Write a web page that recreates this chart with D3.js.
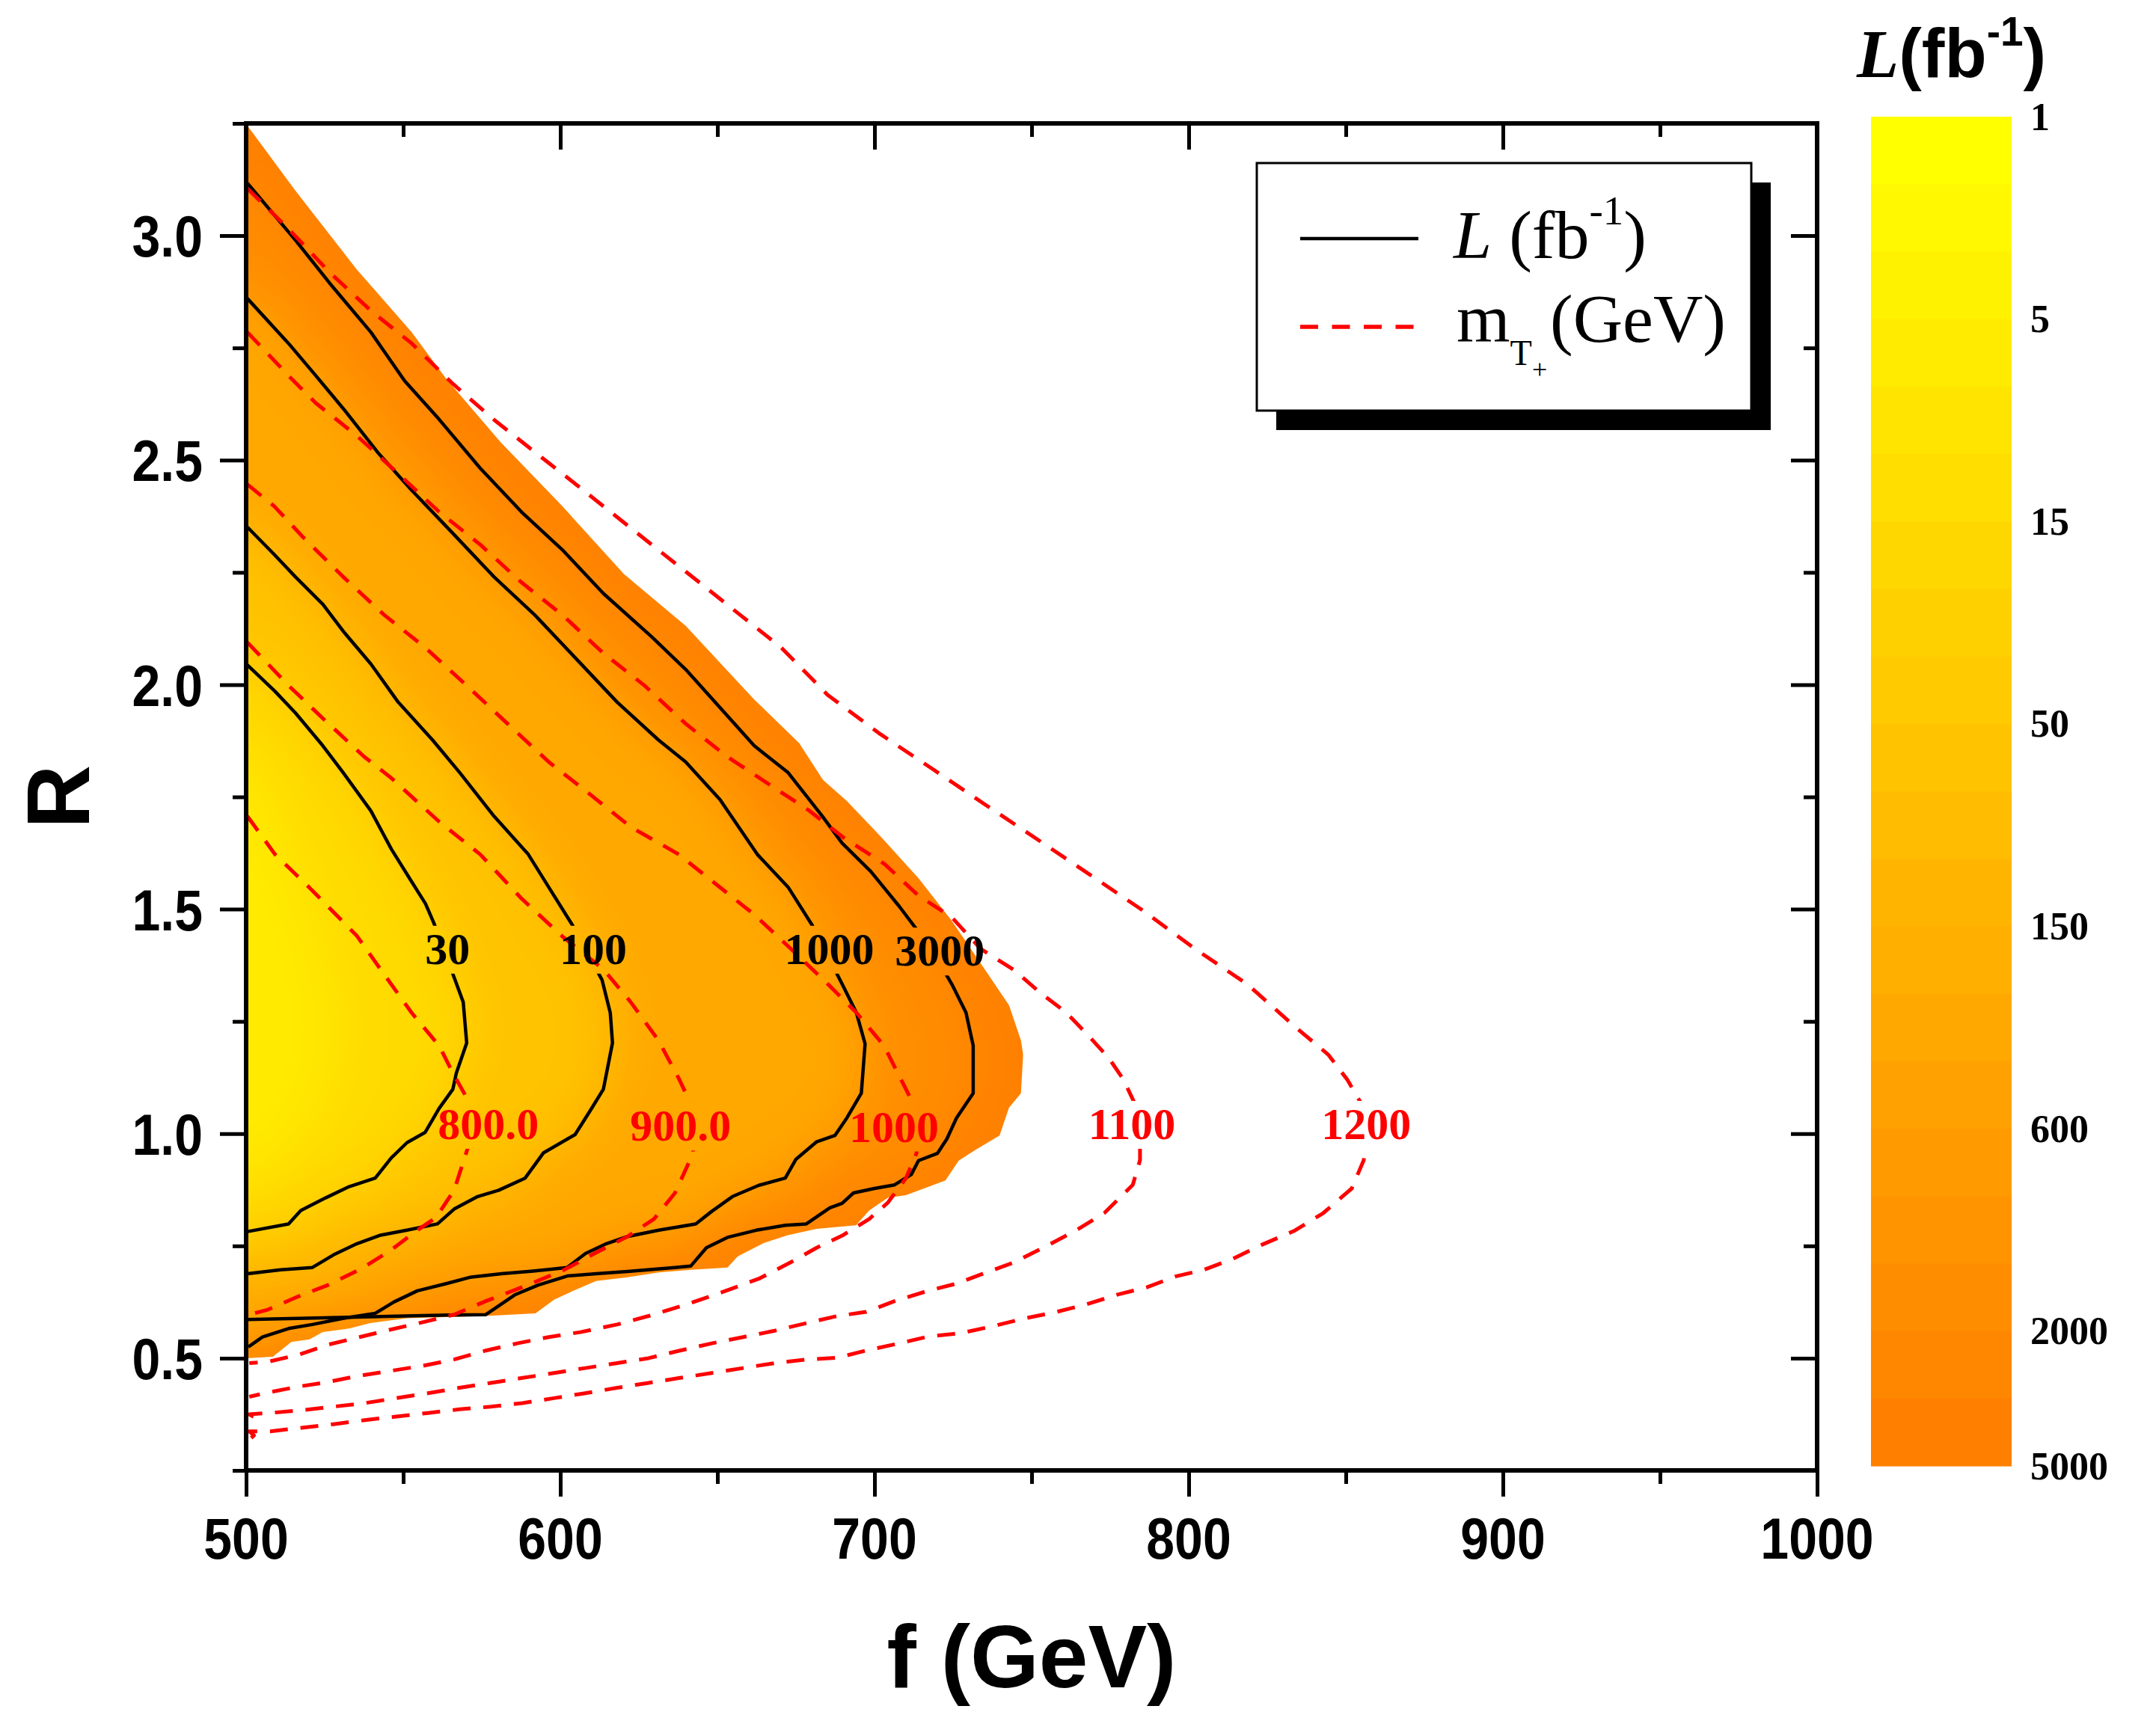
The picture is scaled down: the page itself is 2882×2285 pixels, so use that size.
<!DOCTYPE html>
<html><head><meta charset="utf-8">
<script src="https://cdn.jsdelivr.net/npm/d3@7"></script>
<style>html,body{margin:0;padding:0;background:#fff}</style>
</head><body>
<svg id="chart" width="2882" height="2285" xmlns="http://www.w3.org/2000/svg"></svg>
<script>
// ---------------- DATA ----------------
const fTicks = [500, 600, 700, 800, 900, 1000];
const fMinor = [550, 650, 750, 850, 950];
const rTicks = [0.5, 1.0, 1.5, 2.0, 2.5, 3.0];
const rMinor = [0.25, 0.75, 1.25, 1.75, 2.25, 2.75, 3.25];

// colour-bar levels (fb^-1), 20 bands
const cbLevels = [1, 2, 3, 5, 7, 10, 15, 20, 30, 50, 70, 100, 150, 300, 450, 600, 1000, 1500, 2000, 3000, 5000];
const cbLabels = [1, 5, 15, 50, 150, 600, 2000, 5000];

// edge of the filled region (L = 5000)
const edge5000 = [[500.4,3.245],[515.7,3.10],[535.3,2.924],[552.7,2.785],[563.6,2.682],[581,2.54],[600.7,2.397],[620.3,2.246],[639.9,2.131],[661.7,1.967],[676,1.87],[683.6,1.788],[691.2,1.741],[701.8,1.663],[714,1.569],[724.6,1.474],[735.2,1.365],[742.8,1.286],[746.6,1.208],[747.3,1.176],[746.6,1.09],[742.8,1.058],[739.8,0.996],[732.2,0.964],[726.8,0.94],[722.6,0.896],[710,0.863],[704.2,0.857],[698.3,0.829],[694.1,0.796],[681.6,0.788],[672.4,0.774],[664.9,0.757],[656.5,0.727],[653.2,0.702],[641.5,0.697],[631.4,0.691],[621.4,0.68],[611.4,0.672],[604.7,0.652],[598,0.63],[592.1,0.60],[576.3,0.594],[551.2,0.589],[539.5,0.578],[532.8,0.566],[524.4,0.558],[520.2,0.542],[514.4,0.536],[508.5,0.503],[500,0.50]];

// estimated light core (about L = 10)
const core10 = [[500,1.85],[510,1.70],[520,1.52],[527,1.35],[529,1.20],[525,1.07],[515,0.97],[505,0.91],[500,0.90]];

// luminosity contours L (fb^-1)
const L30 = [[500.4,2.044],[509.2,1.985],[515.7,1.937],[524.4,1.864],[530.9,1.804],[539.7,1.719],[546.2,1.634],[552.7,1.561],[557.1,1.512],[559.7,1.47],[566.2,1.348],[569.1,1.293],[570.2,1.202],[566.9,1.135],[565.8,1.099],[561.4,1.056],[557,1.003],[551.2,0.98],[546.2,0.946],[541.1,0.901],[532.8,0.882],[525.3,0.857],[517.4,0.829],[513.5,0.799],[500.5,0.782]];
const L100 = [[500.4,2.351],[509.2,2.288],[515.7,2.24],[524.4,2.179],[530.9,2.119],[539.7,2.046],[548.4,1.961],[559.3,1.877],[568,1.804],[578.9,1.707],[589.8,1.622],[596.3,1.549],[603.9,1.464],[613.3,1.342],[615.9,1.269],[616.6,1.202],[613.7,1.099],[609.4,1.05],[604.7,0.998],[594.6,0.957],[588.8,0.901],[580.4,0.874],[573.7,0.86],[566.2,0.832],[560.9,0.799],[551.2,0.785],[542.8,0.774],[535.3,0.755],[527.8,0.73],[521.1,0.702],[511,0.697],[500.5,0.688]];
const L1000 = [[500.4,2.86],[513.5,2.76],[522.2,2.688],[530.9,2.615],[541.8,2.518],[552.7,2.433],[565.8,2.337],[578.9,2.24],[591.9,2.155],[605,2.058],[618.1,1.961],[631.2,1.877],[639.9,1.828],[650.8,1.744],[662.7,1.622],[672.5,1.549],[680.2,1.464],[689.7,1.333],[694.2,1.27],[697,1.20],[695.8,1.09],[691.2,1.035],[687.4,0.996],[681.6,0.982],[675,0.943],[671.6,0.901],[663.2,0.885],[654.8,0.86],[648.2,0.827],[643.1,0.799],[631.4,0.785],[621.4,0.771],[614.7,0.755],[608,0.733],[602.2,0.702],[591.3,0.694],[581.3,0.688],[571.2,0.68],[563.7,0.666],[554.5,0.65],[547,0.625],[541.1,0.60],[531.1,0.589],[521.1,0.575],[513.5,0.566],[505.2,0.547],[500.7,0.525]];
const L3000 = [[500.4,3.117],[515.7,2.99],[526.6,2.894],[539.7,2.785],[550.5,2.676],[561.4,2.591],[574.5,2.482],[587.6,2.385],[600.7,2.30],[613.7,2.203],[629,2.107],[639.9,2.034],[650.8,1.949],[661.7,1.864],[672.5,1.804],[683.4,1.707],[689.7,1.647],[698.8,1.584],[707.9,1.506],[714.7,1.443],[719,1.40],[724.6,1.333],[729.1,1.27],[731.4,1.196],[731.4,1.09],[726.1,1.035],[723,0.988],[720,0.956],[714,0.94],[711.7,0.909],[706.4,0.886],[700,0.878],[693.3,0.868],[689.7,0.845],[685.8,0.835],[678.3,0.799],[671.6,0.796],[662.4,0.785],[653.2,0.769],[646.5,0.746],[641.5,0.705],[636.5,0.702],[621.4,0.693],[611.4,0.688],[602.2,0.683],[593,0.663],[585.5,0.641],[576.3,0.597],[564.5,0.596],[500.5,0.586]];

const lumLevels = [30, 100, 1000, 3000];
const lumLines = [L30, L100, L1000, L3000];
const lumLabelAt = [[564.1,1.412],[610.5,1.412],[685.6,1.412],[720.8,1.408]];

// top-partner mass contours m_T+ (GeV)
const M800 = [[500.4,1.707],[509.2,1.622],[520,1.549],[535.3,1.44],[544,1.354],[552.7,1.269],[561.4,1.196],[565.8,1.135],[570.2,1.08],[571.5,1.02],[570.4,0.965],[566.2,0.874],[560.4,0.813],[554.5,0.785],[546.2,0.741],[536.1,0.697],[526.1,0.663],[516.1,0.636],[506.9,0.608],[501,0.597]];
const M900 = [[500.4,2.094],[513.5,1.998],[524.4,1.925],[537.5,1.84],[546.2,1.792],[561.4,1.695],[574.5,1.622],[587.6,1.524],[600.7,1.439],[613.7,1.366],[622.4,1.293],[631.2,1.208],[637.7,1.123],[641,1.074],[642,1.015],[642.3,0.957],[636.5,0.868],[629.8,0.81],[621.4,0.771],[611.4,0.735],[601.3,0.697],[589.6,0.663],[576.3,0.627],[566.2,0.597],[556.2,0.58],[546.2,0.564],[536.1,0.547],[526.1,0.53],[516.9,0.508],[506.9,0.492],[501,0.489]];
const M1000 = [[500.4,2.446],[509,2.397],[517.9,2.33],[530.9,2.24],[544,2.155],[557.1,2.082],[570.2,1.998],[583.2,1.913],[596.3,1.828],[609.4,1.756],[622.4,1.683],[637.7,1.622],[648.6,1.561],[661.7,1.488],[674.7,1.403],[685.6,1.33],[694.3,1.269],[703,1.196],[707.4,1.135],[711.8,1.074],[713,1.015],[713.4,0.957],[710,0.901],[704.2,0.846],[698.3,0.81],[690,0.774],[681.6,0.746],[673.2,0.713],[663.2,0.677],[651.5,0.647],[639.8,0.619],[628.1,0.594],[618.1,0.575],[606.4,0.558],[596.3,0.547],[586.3,0.533],[576.3,0.517],[566.2,0.497],[556.2,0.483],[546.2,0.472],[536.1,0.461],[526.1,0.447],[516.1,0.436],[506,0.422],[501,0.414]];
const M1100 = [[500.4,2.785],[513.5,2.688],[522.2,2.627],[535.3,2.554],[548.4,2.47],[561.4,2.385],[574.5,2.312],[587.6,2.228],[600.7,2.155],[613.7,2.07],[626.8,1.998],[639.9,1.913],[653,1.84],[666,1.78],[679.1,1.72],[690,1.66],[703.3,1.60],[714,1.53],[724.6,1.482],[733.7,1.412],[744.3,1.365],[753.4,1.31],[761,1.27],[768.5,1.215],[774.6,1.168],[779.2,1.121],[782.9,1.066],[784.5,1.0],[784.5,0.941],[782.2,0.886],[773.1,0.823],[764,0.784],[753.4,0.745],[744.3,0.713],[735.2,0.69],[726.1,0.666],[717,0.65],[706.4,0.627],[697.3,0.603],[688.3,0.594],[678.3,0.578],[668.2,0.561],[658.2,0.547],[648.2,0.533],[638.1,0.517],[628.1,0.50],[618.1,0.489],[608,0.478],[598,0.467],[588,0.456],[577.9,0.445],[567.9,0.434],[557.9,0.422],[547.8,0.411],[537.8,0.40],[527.8,0.392],[517.7,0.384],[507.7,0.378],[501,0.375],[503,0.367],[500.5,0.356]];
const M1200 = [[500.4,3.105],[513.5,3.015],[526.6,2.918],[539.7,2.833],[552.7,2.76],[565.8,2.67],[578.9,2.59],[591.9,2.518],[605,2.446],[618.1,2.373],[631.2,2.30],[644.2,2.228],[657.3,2.155],[670.4,2.082],[685.1,1.977],[701.8,1.89],[718.5,1.812],[735.2,1.733],[751.9,1.655],[768.5,1.577],[785.2,1.498],[801.9,1.412],[818.6,1.333],[833.7,1.239],[844.4,1.176],[850.4,1.121],[855,1.066],[856.5,1.0],[855.7,0.941],[851.9,0.878],[842.8,0.823],[833.7,0.784],[823.1,0.752],[814,0.721],[804.9,0.697],[795.8,0.682],[786.7,0.658],[777.6,0.642],[767,0.619],[757.9,0.603],[747.3,0.588],[738.2,0.572],[727.6,0.556],[717,0.548],[707.9,0.533],[697.3,0.517],[688.2,0.501],[678.3,0.497],[668.2,0.489],[658.2,0.478],[648.2,0.467],[638.1,0.456],[628.1,0.445],[618.1,0.434],[608,0.422],[598,0.411],[588,0.40],[577.9,0.392],[567.9,0.386],[557.9,0.378],[547.8,0.37],[537.8,0.362],[527.8,0.353],[517.7,0.345],[507.7,0.337],[501,0.337],[502.5,0.328],[500.5,0.315]];

const massLevels = ["800.0", "900.0", "1000", "1100", "1200"];
const massLines = [M800, M900, M1000, M1100, M1200];
const massLabelAt = [[577.1,1.022],[638.3,1.018],[706.2,1.016],[781.9,1.022],[856.5,1.022]];

// ---------------- LAYOUT ----------------
const W = 2882, H = 2285;
const P = {left: 329, right: 2429, top: 165, bottom: 1966};
const CB = {left: 2501, right: 2689, top: 156, bottom: 1960};
const SANS = "'Liberation Sans', Arial, sans-serif";
const SERIF = "'Liberation Serif', 'Times New Roman', serif";

const svg = d3.select("#chart");
svg.append("rect").attr("width", W).attr("height", H).attr("fill", "#fff");

const x = d3.scaleLinear().domain([500, 1000]).range([P.left, P.right]);
const y = d3.scaleLinear().domain([0.25, 3.25]).range([P.bottom, P.top]);
const line = d3.line().x(d => x(d[0])).y(d => y(d[1]));

// colour of band i (0 = lowest level)
const bandColor = d3.scaleLinear().domain([0, 19]).range(["#ffff00", "#ff8000"]).interpolate(d3.interpolateRgb);

const defs = svg.append("defs");
defs.append("filter").attr("id", "soft")
  .attr("filterUnits", "userSpaceOnUse").attr("x", 0).attr("y", 0).attr("width", W).attr("height", H)
  .append("feGaussianBlur").attr("stdDeviation", 36);
defs.append("clipPath").attr("id", "edgeClip")
  .append("path").attr("d", line(edge5000) + "Z");
defs.append("clipPath").attr("id", "plotClip")
  .append("rect").attr("x", P.left).attr("y", P.top).attr("width", P.right - P.left).attr("height", P.bottom - P.top);

// ---------------- FILLED REGION ----------------
const extendLeft = pts => [[470, pts[0][1]], ...pts, [470, pts[pts.length - 1][1]]];
const fillOuter = svg.append("g").attr("clip-path", "url(#edgeClip)");
const fillG = fillOuter.append("g").attr("filter", "url(#soft)");
fillG.append("rect")
  .attr("x", x(460)).attr("y", y(3.6)).attr("width", x(800) - x(460)).attr("height", y(0) - y(3.6))
  .attr("fill", bandColor(19));
const zones = [
  {pts: L3000, band: 17},
  {pts: L1000, band: 13},
  {pts: L100, band: 9},
  {pts: L30, band: 5.6},
  {pts: core10, band: 3.2}
];
fillG.selectAll("path.zone").data(zones).join("path").attr("class", "zone")
  .attr("d", d => line(extendLeft(d.pts)) + "Z")
  .attr("fill", d => bandColor(d.band));

// ---------------- CONTOUR LINES ----------------
defs.append("mask").attr("id", "maskBlack").attr("maskUnits", "userSpaceOnUse")
  .attr("x", 0).attr("y", 0).attr("width", W).attr("height", H)
  .append("rect").attr("width", W).attr("height", H).attr("fill", "#fff");
defs.append("mask").attr("id", "maskRed").attr("maskUnits", "userSpaceOnUse")
  .attr("x", 0).attr("y", 0).attr("width", W).attr("height", H)
  .append("rect").attr("width", W).attr("height", H).attr("fill", "#fff");

const linesG = svg.append("g").attr("clip-path", "url(#plotClip)");
linesG.append("g").attr("mask", "url(#maskBlack)")
  .selectAll("path").data(lumLines).join("path")
  .attr("d", d => line(d)).attr("fill", "none").attr("stroke", "#000")
  .attr("stroke-width", 4.5).attr("stroke-linejoin", "round");
linesG.append("g").attr("mask", "url(#maskRed)")
  .selectAll("path").data(massLines).join("path")
  .attr("d", d => line(d)).attr("fill", "none").attr("stroke", "#ff0000")
  .attr("stroke-width", 5).attr("stroke-dasharray", "24,17").attr("stroke-linejoin", "round");

function contourLabels(texts, at, color, maskId) {
  const g = svg.append("g");
  const t = g.selectAll("text").data(texts).join("text")
    .attr("x", (d, i) => x(at[i][0])).attr("y", (d, i) => y(at[i][1]))
    .attr("dy", "0.34em").attr("text-anchor", "middle")
    .attr("font-family", SERIF).attr("font-weight", "bold").attr("font-size", 60)
    .attr("fill", color).text(d => d);
  const m = d3.select("#" + maskId);
  t.each(function () {
    const b = this.getBBox();
    m.append("rect").attr("x", b.x - 4).attr("y", b.y + 2).attr("width", b.width + 8).attr("height", b.height - 2).attr("fill", "#000");
  });
}
contourLabels(lumLevels.map(String), lumLabelAt, "#000", "maskBlack");
contourLabels(massLevels, massLabelAt, "#ff0000", "maskRed");

// ---------------- AXES ----------------
const axG = svg.append("g");
function styleAxis(g) {
  g.select(".domain").remove();
  g.selectAll(".tick line").attr("stroke", "#000").attr("stroke-width", 5);
  g.selectAll(".tick text").remove();
}
axG.append("g").attr("transform", `translate(0,${P.bottom})`)
  .call(d3.axisBottom(x).tickValues(fTicks).tickSize(35).tickSizeOuter(0)).call(styleAxis);
axG.append("g").attr("transform", `translate(0,${P.bottom})`)
  .call(d3.axisBottom(x).tickValues(fMinor).tickSize(18).tickSizeOuter(0)).call(styleAxis);
axG.append("g").attr("transform", `translate(0,${P.top})`)
  .call(d3.axisTop(x).tickValues(fTicks).tickSize(-35).tickSizeOuter(0)).call(styleAxis);
axG.append("g").attr("transform", `translate(0,${P.top})`)
  .call(d3.axisTop(x).tickValues(fMinor).tickSize(-18).tickSizeOuter(0)).call(styleAxis);
axG.append("g").attr("transform", `translate(${P.left},0)`)
  .call(d3.axisLeft(y).tickValues(rTicks).tickSize(35).tickSizeOuter(0)).call(styleAxis);
axG.append("g").attr("transform", `translate(${P.left},0)`)
  .call(d3.axisLeft(y).tickValues(rMinor).tickSize(18).tickSizeOuter(0)).call(styleAxis);
axG.append("g").attr("transform", `translate(${P.right},0)`)
  .call(d3.axisRight(y).tickValues(rTicks).tickSize(-35).tickSizeOuter(0)).call(styleAxis);
axG.append("g").attr("transform", `translate(${P.right},0)`)
  .call(d3.axisRight(y).tickValues(rMinor).tickSize(-18).tickSizeOuter(0)).call(styleAxis);
axG.append("rect").attr("x", P.left).attr("y", P.top).attr("width", P.right - P.left).attr("height", P.bottom - P.top)
  .attr("fill", "none").attr("stroke", "#000").attr("stroke-width", 6);

axG.selectAll("text.xt").data(fTicks).join("text").attr("class", "xt")
  .attr("transform", d => `translate(${x(d)},2084) scale(1,1.15)`)
  .attr("text-anchor", "middle").attr("font-family", SANS).attr("font-weight", "bold").attr("font-size", 68)
  .text(d => d);
axG.selectAll("text.yt").data(rTicks).join("text").attr("class", "yt")
  .attr("transform", d => `translate(271,${y(d)}) scale(1,1.15)`)
  .attr("dy", "0.36em").attr("text-anchor", "end").attr("font-family", SANS).attr("font-weight", "bold").attr("font-size", 68)
  .text(d => d3.format(".1f")(d));

axG.append("text").attr("x", (P.left + P.right) / 2).attr("y", 2256).attr("text-anchor", "middle")
  .attr("font-family", SANS).attr("font-weight", "bold").attr("font-size", 118).text("f (GeV)");
axG.append("text").attr("transform", `translate(119,${(P.top + P.bottom) / 2}) rotate(-90)`).attr("text-anchor", "middle")
  .attr("font-family", SANS).attr("font-weight", "bold").attr("font-size", 118).text("R");

// ---------------- LEGEND ----------------
const lg = svg.append("g");
lg.append("rect").attr("x", 1706).attr("y", 244).attr("width", 661).attr("height", 331).attr("fill", "#000");
lg.append("rect").attr("x", 1680).attr("y", 218).attr("width", 661).attr("height", 331).attr("fill", "#fff")
  .attr("stroke", "#000").attr("stroke-width", 3);
lg.append("line").attr("x1", 1738).attr("x2", 1896).attr("y1", 319).attr("y2", 319)
  .attr("stroke", "#000").attr("stroke-width", 4.5);
lg.append("line").attr("x1", 1738).attr("x2", 1892).attr("y1", 437).attr("y2", 437)
  .attr("stroke", "#ff0000").attr("stroke-width", 5.5).attr("stroke-dasharray", "24,18.5");
const t1 = lg.append("text").attr("x", 1943).attr("y", 345).attr("font-family", SERIF).attr("font-size", 92);
t1.append("tspan").attr("font-style", "italic").text("L");
t1.append("tspan").text(" (fb");
t1.append("tspan").attr("font-size", 55).attr("dy", -45).text("-1");
t1.append("tspan").attr("dy", 45).text(")");
const t2 = lg.append("text").attr("x", 1947).attr("y", 457).attr("font-family", SERIF).attr("font-size", 92);
t2.append("tspan").text("m");
t2.append("tspan").attr("font-size", 48).attr("dy", 31).text("T");
t2.append("tspan").attr("font-size", 36).attr("dy", 18).text("+");
t2.append("tspan").attr("x", 2072).attr("dy", -49).text("(GeV)");

// ---------------- COLOUR BAR ----------------
const cbY = d3.scaleLinear().domain([0, cbLevels.length - 1]).range([CB.top, CB.bottom]);
const cb = svg.append("g");
cb.selectAll("rect").data(d3.range(cbLevels.length - 1)).join("rect")
  .attr("x", CB.left).attr("width", CB.right - CB.left)
  .attr("y", i => cbY(i)).attr("height", i => cbY(i + 1) - cbY(i) + 0.6)
  .attr("fill", i => bandColor(i));
cb.selectAll("text").data(cbLabels).join("text")
  .attr("x", 2714).attr("y", d => cbY(cbLevels.indexOf(d))).attr("dy", "0.34em")
  .attr("font-family", SERIF).attr("font-weight", "bold").attr("font-size", 52).text(d => d);
const ct = svg.append("text").attr("x", 2482).attr("y", 103).attr("font-size", 92).attr("font-weight", "bold");
ct.append("tspan").attr("font-family", SERIF).attr("font-style", "italic").text("L");
ct.append("tspan").attr("font-family", SANS).text("(fb");
ct.append("tspan").attr("font-family", SANS).attr("font-size", 55).attr("dy", -42).text("-1");
ct.append("tspan").attr("font-family", SANS).attr("dy", 42).text(")");
</script>
</body></html>
